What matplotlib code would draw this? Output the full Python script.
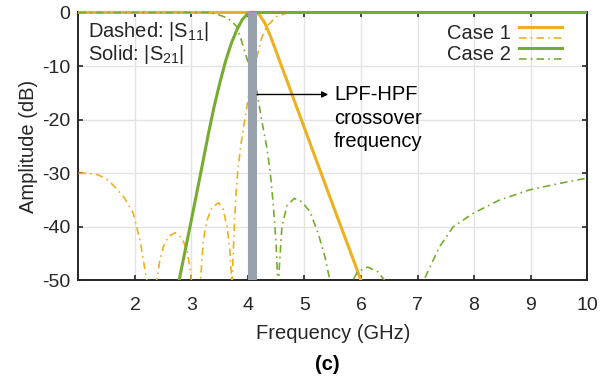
import numpy as np
import matplotlib
matplotlib.use("Agg")
import matplotlib.pyplot as plt
from matplotlib.lines import Line2D
from matplotlib.legend_handler import HandlerBase
from matplotlib.transforms import Bbox, TransformedBbox

## Data (frequency in GHz, amplitude in dB)
# Case 1, |S21| (solid, orange) - low pass side
c1_s21_f = [1.0, 3.5, 4.0, 4.15, 4.2, 4.3, 4.4, 4.5, 4.6, 4.7, 4.8, 5.0, 5.2, 5.4, 5.6, 5.8, 6.0]
c1_s21_db = [0, 0, 0, 0, -0.4, -2.0, -4.5, -7.3, -10.2, -13.0, -15.9, -21.6, -27.3, -33.0, -38.7, -44.3, -50.0]

# Case 1, |S11| (dash-dot, orange)
c1_s11_f = [1.0, 1.17, 1.35, 1.53, 1.70, 1.82, 1.97, 2.09, 2.15, 2.21, 2.3,
            2.38, 2.44, 2.50, 2.59, 2.71, 2.83, 2.92, 2.97, 3.0, 3.08,
            3.16, 3.21, 3.27, 3.36, 3.48, 3.56, 3.63, 3.68, 3.71, 3.715,
            3.72, 3.75, 3.78, 3.82, 3.87, 3.92, 3.97, 4.05, 4.16, 4.24, 4.33, 4.5, 4.69, 5.0, 10.0]
c1_s11_db = [-30.0, -30.0, -30.3, -31.3, -33.2, -34.7, -37.5, -42.5, -46.3, -50.0, -65.0,
             -50.0, -46.3, -43.8, -41.8, -41.1, -42.1, -44.3, -47.4, -50.0, -65.0,
             -50.0, -42.6, -38.9, -36.4, -35.5, -36.7, -40.0, -44.3, -50.0, -62.0,
             -50.0, -42.0, -35.0, -29.5, -25.0, -21.5, -18.2, -13.0, -8.2, -4.8, -2.6, -0.8, -0.1, 0, 0]

# Case 2, |S21| (solid, green) - high pass side
c2_s21_f = [2.78, 2.9, 3.0, 3.1, 3.2, 3.3, 3.4, 3.5, 3.6, 3.7, 3.8, 3.9, 4.0, 4.05, 10.0]
c2_s21_db = [-50.0, -43.8, -38.6, -33.3, -28.0, -22.6, -17.6, -13.2, -9.2, -5.9, -3.3, -1.3, -0.2, 0, 0]

# Case 2, |S11| (dash-dot, green)
c2_s11_f = [1.0, 3.32, 3.5, 3.65, 3.8, 3.88, 3.97, 4.07, 4.16, 4.23, 4.33, 4.39, 4.45, 4.5, 4.525, 4.53,
            4.54, 4.6, 4.69, 4.82, 4.95, 5.1, 5.25, 5.36, 5.45, 5.65,
            5.85, 5.94, 6.12, 6.3, 6.42, 6.8,
            7.11, 7.39, 7.63, 7.98, 8.45, 8.98, 9.51, 10.0]
c2_s11_db = [0, 0, -0.5, -1.1, -2.6, -5.1, -8.2, -11.5, -14.8, -19.4, -25.0, -29.4, -36.2, -43.6, -50.0, -62.0,
             -50.0, -40.0, -36.0, -34.7, -35.3, -37.2, -41.5, -45.5, -50.0, -65.0,
             -50.0, -48.4, -47.5, -48.4, -50.0, -65.0,
             -50.0, -43.7, -40.0, -37.5, -35.0, -33.1, -31.9, -30.9]

x_ticks = [2, 3, 4, 5, 6, 7, 8, 9, 10]
y_ticks = [0, -10, -20, -30, -40, -50]
crossover_band = (4.0, 4.16)
case_labels = ["Case 1", "Case 2"]

orange = "#EDB120"
green = "#77AC30"
dark = "#262626"
dashdot = (0, (4.5, 2.5, 1.0, 2.5))

plt.rcParams["font.family"] = ["Liberation Sans", "DejaVu Sans"]
plt.rcParams["font.size"] = 14.5
plt.rcParams["mathtext.default"] = "regular"
plt.rcParams["axes.unicode_minus"] = False


# Legend entry: solid line stacked over a dash-dot line
class StackedLines(HandlerBase):
    def create_artists(self, legend, orig_handle, xdescent, ydescent,
                       width, height, fontsize, trans):
        solid, dd = orig_handle
        arts = []
        for src, yy in ((solid, height * 0.85), (dd, height * 0.1)):
            ln = Line2D([-xdescent, width - xdescent], [yy - ydescent] * 2)
            ln.update_from(src)
            ln.set_transform(trans)
            arts.append(ln)
        return arts


fig = plt.figure(figsize=(6.15, 3.78), dpi=100)
ax = fig.add_axes([0.1276, 0.258, 0.8269, 0.709])

ax.set_xlim(1, 10)
ax.set_ylim(-50, 0)
ax.set_xticks(x_ticks)
ax.set_yticks(y_ticks)
ax.grid(True, color="#e3e3e3", lw=1.0)
ax.set_axisbelow(True)

# let the curves sitting on 0 dB show their full width above the box
clip = TransformedBbox(Bbox([[0, 0], [1, 1.02]]), ax.transAxes)

l1s, = ax.plot(c1_s21_f, c1_s21_db, color=orange, lw=2.2, zorder=3)
l1d, = ax.plot(c1_s11_f, c1_s11_db, color=orange, lw=1.2, ls=dashdot, zorder=3)
l2d, = ax.plot(c2_s11_f, c2_s11_db, color=green, lw=1.2, ls=dashdot, zorder=3)
l2s, = ax.plot(c2_s21_f, c2_s21_db, color=green, lw=2.2, zorder=3)
for ln in (l1s, l1d, l2d, l2s):
    ln.set_clip_box(clip)

ax.axvspan(crossover_band[0], crossover_band[1], color="#98a2ac", lw=0, zorder=4)

ax.annotate("", xy=(5.42, -15.3), xytext=(crossover_band[1], -15.3),
            arrowprops=dict(arrowstyle="-|>", color="k", lw=1.0, mutation_scale=9,
                            shrinkA=0, shrinkB=0), zorder=5)
ax.text(5.52, -19.7, "LPF-HPF\ncrossover\nfrequency", ha="left", va="center",
        linespacing=1.3, color="k", zorder=5)

ax.text(0.019, 0.928, "Dashed: |S$_{11}$|", transform=ax.transAxes,
        ha="left", va="center", color=dark, zorder=5)
ax.text(0.019, 0.842, "Solid: |S$_{21}$|", transform=ax.transAxes,
        ha="left", va="center", color=dark, zorder=5)

leg = ax.legend([(l1s, l1d), (l2s, l2d)], case_labels,
                handler_map={tuple: StackedLines()},
                loc="upper right", bbox_to_anchor=(0.951, 0.957),
                frameon=False, markerfirst=False, borderpad=0, borderaxespad=0,
                handlelength=2.15, handletextpad=0.4, labelspacing=0.1)
for t in leg.get_texts():
    t.set_color(dark)

for s in ax.spines.values():
    s.set_color(dark)
    s.set_linewidth(1.4)
ax.tick_params(direction="in", top=True, right=True, length=3.5, width=1.2,
               colors=dark, labelsize=14)
ax.tick_params(axis="x", pad=12)
ax.tick_params(axis="y", pad=6)

ax.set_xlabel("Frequency (GHz)", color=dark, labelpad=7)
ax.set_ylabel("Amplitude (dB)", color=dark, labelpad=3)
fig.text(0.533, 0.035, "(c)", ha="center", va="center", fontweight="bold", color="k")

fig.savefig("out.png", dpi=100)
